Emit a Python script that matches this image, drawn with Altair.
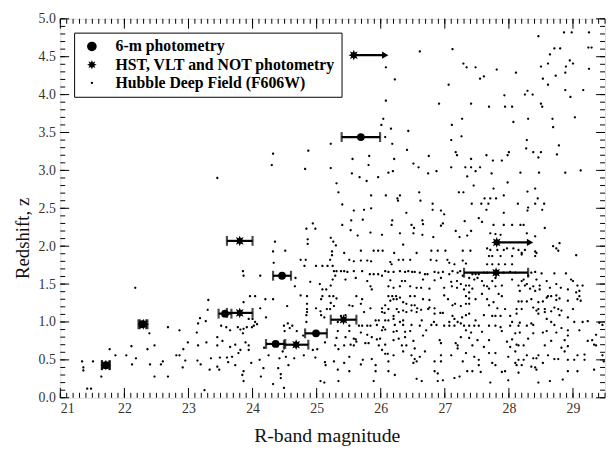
import math
import altair as alt
import pandas as pd

W, H = 552, 384

S6 = "6-m photometry"
SH = "HST, VLT and NOT photometry"
SD = "Hubble Deep Field (F606W)"
series_names = [S6, SH, SD]

x_labels = [21, 22, 23, 24, 25, 26, 27, 28, 29]
y_labels = [0.0, 0.5, 1.0, 1.5, 2.0, 2.5, 3.0, 3.5, 4.0, 4.5, 5.0]
x_minor = [round(21 + 0.1 * i, 1) for i in range(86)]
y_minor = [round(0.1 * i, 1) for i in range(51)]

# 6-m photometry: magnitude, redshift, magnitude error
m6_mag = [21.71, 22.28, 23.57, 24.46, 24.36, 24.99, 25.69]
m6_z = [0.43, 0.97, 1.11, 1.61, 0.71, 0.85, 3.44]
m6_err = [0.06, 0.06, 0.10, 0.14, 0.15, 0.17, 0.30]

# HST, VLT and NOT photometry
hst_mag = [21.71, 22.30, 23.80, 23.80, 24.68, 25.42, 27.80]
hst_z = [0.43, 0.97, 1.12, 2.07, 0.70, 1.03, 1.65]
hst_err = [0.06, 0.06, 0.20, 0.20, 0.19, 0.20, 0.50]

# lower limits (arrows)
lim_mag = [25.58, 27.81]
lim_z = [4.52, 2.05]
lim_end = [26.07, 28.33]

# Hubble Deep Field galaxies (R magnitude, redshift)
hdf_top_mid = [(23.45,2.90),(24.32,3.22),(24.30,3.07),(24.82,3.02),(24.84,2.23),
(26.61,4.57),(27.12,4.60),(26.08,4.36),(26.22,4.20),(27.06,4.13),(26.08,3.92),(26.91,3.88),(26.04,3.68),(26.01,3.60),(26.16,3.55),(27.11,3.60),(26.43,3.52),(26.07,3.44),(26.18,3.35),(25.22,3.35),(27.10,3.40),(24.87,3.26),(26.41,3.27),(26.75,3.19),(25.56,3.15),(25.82,3.19),(26.21,3.15),(25.22,3.03),(25.81,3.07),(26.51,3.09),(26.59,3.04),(27.10,3.04),(25.55,2.96),(25.67,2.91),(25.78,2.86),(25.96,2.91),(26.12,2.97),(26.19,2.99),(26.74,2.96),(26.87,2.99),(25.31,2.83),(25.34,2.71),(25.85,2.67),(26.08,2.67),(26.26,2.63),(26.30,2.67),(26.60,2.71),(26.62,2.60),(25.40,2.55),(25.74,2.48),(25.85,2.50),(25.58,2.47),(26.27,2.60),(26.40,2.44),(26.81,2.56),(26.81,2.48),(26.94,2.47)]

hdf_top_right = [(28.46,4.77),(28.86,4.82),(28.98,4.82),(29.25,4.82),(28.71,4.61),(28.80,4.61),(29.24,4.62),(29.29,4.62),(28.64,4.53),(27.29,4.41),(27.34,4.36),(27.48,4.36),(27.81,4.33),(28.50,4.37),(28.61,4.41),(28.95,4.45),(29.00,4.41),(28.89,4.37),(28.88,4.29),(29.25,4.34),(28.11,4.29),(27.61,4.24),(27.55,4.21),(28.53,4.21),(28.73,4.25),(28.61,4.13),(28.29,4.05),(28.25,4.00),(28.37,4.00),(27.93,3.99),(28.88,4.06),(28.96,3.97),(29.16,4.06),(27.41,3.88),(27.69,3.84),(27.94,3.84),(28.05,3.84),(28.50,3.88),(28.52,3.84),(27.27,3.68),(28.30,3.68),(28.68,3.68),(29.03,3.70),(28.07,3.64),(28.69,3.57),(27.26,3.45),(28.28,3.40),(28.27,3.29),(28.78,3.33),(28.75,3.21),(27.17,3.24),(27.19,3.20),(27.41,3.15),(27.65,3.20),(27.75,3.13),(27.89,3.13),(27.98,3.20),(28.00,3.24),(28.38,3.24),(28.50,3.24),(28.46,3.17),(27.32,3.04),(27.41,3.04),(27.48,2.99),(27.55,3.04),(27.73,2.96),(28.18,2.97),(28.47,2.97),(28.88,2.97),(29.12,3.00),(27.35,2.92),(27.98,2.84),(27.45,2.80),(27.76,2.76),(28.41,2.76),(27.22,2.71),(27.29,2.71),(28.29,2.72),(27.92,2.67),(27.62,2.63),(27.71,2.63),(27.80,2.63),(28.45,2.63),(27.42,2.56),(27.57,2.56),(27.68,2.56),(28.14,2.56),(28.41,2.56),(28.55,2.56),(27.65,2.48),(28.30,2.51),(28.29,2.47),(28.52,2.48),(27.92,2.44)]

hdf_low_left = [(22.17,1.45),(23.31,1.29),(23.18,1.05),(23.27,1.01),(23.15,0.98),(22.68,0.93),(22.86,0.89),(22.39,0.85),(23.13,0.86),(22.99,0.73),(23.28,0.73),(22.11,0.68),(22.47,0.69),(21.77,0.64),(22.36,0.64),(22.92,0.64),(23.15,0.69),(21.86,0.56),(22.03,0.56),(22.81,0.56),(22.86,0.56),(22.18,0.52),(23.35,0.52),(21.34,0.48),(21.51,0.48),(22.60,0.48),(22.95,0.49),(23.14,0.49),(22.12,0.44),(22.40,0.44),(22.57,0.44),(23.19,0.44),(21.36,0.40),(21.36,0.36),(22.91,0.40),(21.64,0.28),(22.47,0.28),(22.68,0.28),(21.42,0.12),(21.48,0.12),(23.25,0.10),
(23.45,0.69),(23.45,0.80),(23.49,0.53),(23.60,0.53),(23.68,0.54),(23.73,0.70),(23.81,0.63),(23.65,0.67),(23.89,0.73),(23.94,0.69),(23.94,0.63),(23.86,0.91),(23.85,0.85),(23.99,0.93),(24.02,0.95),(24.00,1.04),(23.94,1.04),(23.65,0.89),(23.59,0.93),(23.45,0.41),(23.33,0.37),(23.73,0.43),(23.86,0.35),(23.98,0.46),(23.84,0.30),(23.86,0.22),(23.30,1.16),(23.86,1.26),(23.96,1.34),(24.04,1.34),(23.85,1.67),(23.86,1.61),(24.12,1.61),
(23.51,0.95),(23.53,0.75),(23.78,0.59),(23.62,0.47),(24.11,0.50),(24.12,1.18),(24.07,0.97),(24.04,1.00),(23.91,0.93),(23.77,0.93),(23.81,0.90),(23.48,0.37)]

hdf_mid = [(24.94,2.30),(24.98,2.23),(24.86,2.09),(24.86,2.03),(24.35,2.06),(25.22,2.11),(25.26,2.06),(25.30,2.01),(25.40,2.28),(24.32,1.93),(24.51,1.94),(25.24,1.93),(25.24,1.88),(24.33,1.78),(24.75,1.82),(24.83,1.82),(24.81,1.74),(24.99,1.74),(25.09,1.74),(25.17,1.74),(25.21,1.82),(25.25,1.74),(25.27,1.67),(25.31,1.67),(25.38,1.67),(25.29,1.61),(25.25,1.56),(24.67,1.58),(24.66,1.47),(24.90,1.53),(25.05,1.50),(25.22,1.48),(25.09,1.43),(25.15,1.43),(24.85,1.34),(24.75,1.35),(25.09,1.34),(25.20,1.34),(25.26,1.34),(25.31,1.31),(25.07,1.30),(25.22,1.25),(25.27,1.21),(24.20,1.30),(24.32,1.30),(24.54,1.21),(24.85,1.24),(24.85,1.17),(24.85,1.13),(24.84,1.09),(24.21,1.06),(24.99,1.18),(25.06,1.14),(25.07,1.09),(25.12,1.06),(25.16,1.17),(25.21,1.17),(24.49,0.95),(24.55,0.98),(24.62,0.95),(24.58,0.92),(24.50,0.88),(24.69,0.88),(24.79,0.82),(24.84,1.00),(24.18,0.66),(24.25,0.56),(24.42,0.52),(24.47,0.61),(24.52,0.54),(24.56,0.43),(24.65,0.52),(24.80,0.56),(24.94,0.63),(25.01,0.64),(24.98,0.53),(25.13,0.47),(25.14,0.43),(25.27,0.48),(25.34,0.64),(25.29,0.69),(25.13,0.73),(25.31,0.79),(24.17,0.39),(24.40,0.39),(24.44,0.31),(24.44,0.26),(24.13,0.28),(24.32,0.18),(24.49,0.13),(25.06,0.22),(25.12,0.20),(25.34,0.22)]

hdf_center = [(26.99,2.42),(25.54,2.34),(25.72,2.35),(26.18,2.34),(26.17,2.28),(26.48,2.28),(26.52,2.24),(26.65,2.34),(26.66,2.29),(26.94,2.27),(26.97,2.30),(27.31,2.33),(27.17,2.20),(27.41,2.20),(25.64,2.14),(25.84,2.18),(26.02,2.15),(26.30,2.17),(26.51,2.17),(26.65,2.15),(26.82,2.12),(27.23,2.12),(27.35,2.14),(25.53,2.21),(26.35,2.02),
(25.69,1.94),(25.89,1.94),(25.96,1.94),(26.03,1.94),(26.21,1.91),(26.56,1.91),(26.79,1.94),(26.89,1.94),(27.01,1.94),(27.28,1.94),(27.40,1.94),(25.43,1.91),
(25.51,1.82),(25.58,1.80),(25.69,1.81),(25.79,1.81),(25.85,1.80),(26.15,1.79),(26.28,1.82),(26.35,1.82),(26.46,1.82),(26.78,1.82),(26.87,1.81),(27.04,1.82),(27.07,1.78),(27.28,1.81),(27.33,1.77),(26.17,1.76),(27.15,1.76),
(25.43,1.67),(25.48,1.66),(25.58,1.67),(25.71,1.67),(25.83,1.63),(25.89,1.63),(25.96,1.63),(26.07,1.67),(26.12,1.66),(26.20,1.66),(26.30,1.67),(26.38,1.66),(26.43,1.67),(26.49,1.66),(26.53,1.66),(26.61,1.65),(26.69,1.63),(26.73,1.63),(26.84,1.66),(26.90,1.65),(26.97,1.66),(27.07,1.63),(27.12,1.67),(27.20,1.65),(27.24,1.67),(27.28,1.61),(25.45,1.56),(25.61,1.58),(26.02,1.61),
(25.79,1.54),(26.15,1.55),(26.33,1.54),(26.38,1.54),(26.66,1.56),(26.84,1.55),(26.94,1.58),(27.10,1.53),(27.19,1.54),(27.25,1.50),(27.33,1.48),(25.84,1.47),(25.86,1.43),(26.12,1.47),(26.20,1.45),(26.30,1.47),(26.46,1.47),(26.56,1.45),(26.63,1.45),(26.76,1.44),(26.99,1.45),(27.11,1.47),(27.19,1.45),(27.30,1.43),
(25.62,1.34),(25.71,1.30),(26.12,1.34),(26.18,1.34),(26.24,1.34),(26.25,1.30),(26.30,1.32),(26.46,1.34),(26.53,1.34),(26.66,1.30),(26.76,1.29),(26.99,1.35),(27.05,1.30),(27.33,1.34),(27.38,1.31),(25.51,1.22),(25.56,1.21),(25.69,1.24),(25.84,1.18),(26.07,1.22),(26.15,1.28),(26.20,1.30),(26.35,1.26),(26.40,1.24),(26.48,1.22),(26.53,1.22),(26.76,1.19),(26.84,1.18),(27.12,1.22),(27.16,1.24),(27.25,1.21),(27.33,1.24),(26.02,1.18),(26.12,1.17),(26.25,1.17),(26.57,1.18),(26.63,1.16),(26.74,1.17),
(25.38,1.08),(25.45,1.09),(25.74,1.13),(26.02,1.13),(26.06,1.12),(26.20,1.08),(26.28,1.13),(26.35,1.15),(26.40,1.13),(26.48,1.15),(26.56,1.13),(26.84,1.11),(26.93,1.12),(26.97,1.12),(27.12,1.08),(27.15,1.04),(27.27,1.06),(27.33,1.09),(25.92,1.02),(25.97,1.02),(26.07,1.02),(26.12,1.02),(26.20,1.04),(26.30,1.00),(26.35,1.02),(26.64,1.02),(26.83,1.00),(27.07,1.00),(27.20,1.00),(27.25,0.98),(25.33,1.00),
(25.51,0.95),(25.66,0.95),(25.71,0.95),(25.79,0.95),(25.84,0.95),(25.94,0.96),(26.04,0.93),(26.22,0.96),(26.35,0.96),(26.48,0.96),(26.61,0.95),(26.79,0.96),(26.87,0.96),(26.99,0.95),(27.07,0.95),(27.15,0.95),(27.30,0.95),(25.33,0.88),(25.51,0.88),(25.69,0.86),(25.79,0.83),(26.02,0.89),(26.07,0.90),(26.20,0.87),(26.25,0.88),(26.38,0.87),(26.46,0.88),(26.66,0.82),(26.71,0.89),(27.33,0.89),(27.41,0.86),
(25.45,0.80),(25.58,0.78),(25.61,0.77),(25.62,0.74),(25.86,0.80),(25.94,0.77),(25.99,0.78),(26.20,0.76),(26.28,0.78),(26.38,0.80),(26.51,0.75),(26.92,0.76),(27.25,0.80),(25.43,0.69),(25.53,0.70),(25.58,0.69),(25.76,0.72),(25.81,0.72),(25.97,0.69),(26.07,0.70),(26.33,0.69),(26.40,0.69),(26.53,0.65),(26.94,0.72),(27.17,0.72),(27.20,0.69),(27.20,0.65),
(26.02,0.63),(26.07,0.58),(26.11,0.58),(26.20,0.56),(26.35,0.61),(26.48,0.56),(26.53,0.51),(26.56,0.48),(26.61,0.54),(26.94,0.56),(27.10,0.56),(27.33,0.59),(25.51,0.54),(25.43,0.46),(25.72,0.50),(25.86,0.51),(26.12,0.48),(26.51,0.46),(26.69,0.61),(26.84,0.48),(26.94,0.48),(27.28,0.48),(25.69,0.44),(25.92,0.43),
(25.33,0.37),(25.51,0.35),(25.92,0.35),(26.12,0.35),(26.84,0.35),(26.89,0.32),(27.35,0.35),(26.22,0.30),(25.89,0.22),(26.56,0.25),(26.97,0.23),(27.23,0.28),(26.64,0.22),(26.89,0.22),(27.15,0.26)]

hdf_right = [(27.53,2.37),(27.58,2.32),(28.18,2.28),(28.23,2.28),(28.56,2.24),(27.76,2.28),(27.92,2.28),(28.05,2.28),(27.71,2.17),(27.79,2.16),(27.87,2.15),(28.28,2.17),(28.41,2.13),(28.69,2.00),(28.74,1.97),(28.79,2.04),(28.77,1.94),(29.05,1.88),
(27.66,1.97),(27.71,1.95),(27.82,1.95),(27.92,1.95),(27.97,1.97),(28.07,1.97),(28.15,1.95),(28.20,1.91),(28.25,1.95),(28.41,1.93),(28.43,1.91),(27.69,1.87),(27.74,1.87),(27.87,1.87),(28.05,1.87),(28.20,1.89),(28.41,1.87),
(27.66,1.76),(27.74,1.76),(27.84,1.76),(27.94,1.76),(28.05,1.76),
(27.43,1.63),(27.48,1.63),(27.53,1.63),(27.61,1.65),(27.66,1.65),(27.92,1.65),(28.02,1.66),(28.10,1.65),(28.35,1.65),(28.41,1.66),(28.51,1.64),(28.71,1.64),(28.89,1.64),(28.30,1.61),
(27.38,1.58),(27.46,1.56),(27.51,1.58),(27.58,1.54),(27.74,1.54),(27.79,1.58),(28.05,1.56),(28.20,1.54),(28.23,1.56),(28.43,1.56),(28.59,1.54),(28.97,1.56),(29.00,1.54),(29.07,1.48),(27.38,1.48),(27.43,1.44),(27.61,1.48),(27.66,1.47),(27.69,1.44),(27.79,1.47),(27.89,1.48),(28.15,1.48),(28.25,1.48),(28.28,1.50),(28.33,1.44),(28.38,1.47),(28.48,1.48),(28.64,1.45),(28.74,1.50),(28.81,1.45),(28.92,1.43),(29.15,1.48),(29.10,1.41),
(27.38,1.39),(27.58,1.37),(27.84,1.37),(27.89,1.34),(28.17,1.41),(28.41,1.41),(28.48,1.43),(28.59,1.32),(28.61,1.34),(28.66,1.34),(28.74,1.35),(29.05,1.39),(29.10,1.34),(27.48,1.30),(27.66,1.30),(27.76,1.26),(28.15,1.27),(28.20,1.27),(28.28,1.27),(28.46,1.26),(28.53,1.27),(28.74,1.29),(28.79,1.31),(28.92,1.28),(29.07,1.30),(29.12,1.28),(28.35,1.30),
(27.38,1.24),(27.69,1.22),(27.82,1.18),(27.94,1.17),(28.12,1.17),(28.20,1.17),(28.38,1.19),(28.43,1.15),(28.46,1.17),(28.56,1.17),(28.71,1.19),(28.77,1.17),(28.82,1.15),(29.00,1.17),(27.38,1.11),(27.61,1.09),(27.74,1.08),(27.79,1.08),(27.87,1.08),(28.02,1.08),(28.12,1.11),(28.46,1.11),(28.56,1.13),(28.66,1.14),(28.79,1.09),(28.92,1.06),(28.59,1.04),(27.48,1.02),(28.05,1.00),(28.17,0.99),(28.35,0.98),(28.66,1.00),(29.02,1.00),(29.15,1.00),(29.23,1.01),(29.41,0.99),
(27.38,0.95),(27.46,0.95),(27.53,0.95),(27.69,0.95),(27.79,0.95),(27.87,0.93),(28.02,0.95),(28.15,0.95),(28.28,0.95),(28.38,0.96),(28.71,0.96),(28.82,0.92),(28.92,0.89),(29.10,0.89),(29.46,0.96),(27.58,0.87),(27.89,0.88),(28.10,0.85),(28.17,0.86),(28.38,0.85),(28.53,0.86),(28.59,0.88),(28.74,0.86),(28.92,0.82),(29.36,0.83),
(27.38,0.79),(27.51,0.76),(27.69,0.76),(27.97,0.74),(28.05,0.77),(28.30,0.78),(28.66,0.75),(28.87,0.76),(29.23,0.75),(29.30,0.76),(29.33,0.70),(27.43,0.69),(27.61,0.67),(28.02,0.67),(28.12,0.70),(28.15,0.69),(28.23,0.69),(28.56,0.69),(28.82,0.66),(28.92,0.68),(29.36,0.69),(27.69,0.59),(27.79,0.59),(28.10,0.61),(28.28,0.56),(28.46,0.56),(28.61,0.56),(28.87,0.61),(29.07,0.56),(29.18,0.57),(29.46,0.56),
(27.46,0.54),(27.53,0.50),(27.99,0.54),(28.15,0.50),(28.23,0.50),(28.38,0.52),(28.43,0.52),(28.53,0.46),(28.71,0.51),(28.77,0.51),(28.92,0.50),(29.02,0.50),(29.18,0.50),(29.48,0.48),(27.53,0.43),(27.74,0.46),(28.10,0.46),(28.12,0.43),(28.20,0.43),(28.35,0.41),(28.41,0.40),(28.43,0.37),(27.79,0.43),(27.43,0.35),(27.56,0.34),(27.89,0.34),(27.94,0.35),(28.15,0.33),(28.92,0.35),(29.07,0.35),(29.33,0.37),(27.99,0.23),(28.64,0.22),(28.84,0.24),(27.71,0.20),(28.46,0.20)]

hdf_all = hdf_top_mid + hdf_top_right + hdf_low_left + hdf_mid + hdf_center + hdf_right

# ---------- styling helpers ----------
FONT = "Liberation Serif"

# bold 8-armed asterisk as a filled star path
_pts = []
for k in range(16):
    r = 1.0 if k % 2 == 0 else 0.52
    a = math.pi * k / 8
    _pts.append((r * math.sin(a), -r * math.cos(a)))
ASTERISK = "M" + "L".join(f"{px:.3f},{py:.3f}" for px, py in _pts) + "Z"
# tiny dot (small circle inside the unit symbol box)
DOT = "M0,-0.24A0.24,0.24 0 1,1 0,0.24A0.24,0.24 0 1,1 0,-0.24Z"

xs = alt.Scale(domain=[21, 29.5], nice=False, zero=False)
ys = alt.Scale(domain=[0, 5], nice=False, zero=False)

xax = alt.Axis(title="R-band magnitude", values=x_labels, format="d", ticks=False,
               grid=False, domain=False, labelFont=FONT, labelFontSize=14,
               labelColor="#333", labelPadding=4, titleFont=FONT, titleFontSize=20,
               titleFontWeight="normal", titleColor="#111", titleX=270, titleY=44,
               titleBaseline="alphabetic", titleAlign="center")
yax = alt.Axis(title="Redshift, z", values=y_labels, format=".1f", ticks=False,
               grid=False, domain=False, labelFont=FONT, labelFontSize=14,
               labelColor="#333", labelPadding=5, titleFont=FONT, titleFontSize=19,
               titleFontWeight="normal", titleColor="#111", titleX=-32, titleY=222,
               titleBaseline="alphabetic", titleAlign="center", titleAngle=270)

legend = alt.Legend(title=None, orient="none", legendX=14, legendY=14,
                    strokeColor="black", fillColor="white", padding=6,
                    labelFont=FONT, labelFontWeight="bold", labelFontSize=16,
                    labelColor="black", labelLimit=0, symbolFillColor="black",
                    symbolStrokeColor="black", symbolStrokeWidth=0, symbolSize=95,
                    labelOffset=16, symbolOffset=4, rowPadding=2.5)

shape_enc = alt.Shape("series:N", scale=alt.Scale(domain=series_names,
                      range=["circle", ASTERISK, DOT]), legend=legend)

X = lambda f: alt.X(f, scale=xs, axis=xax)
Y = lambda f: alt.Y(f, scale=ys, axis=yax)

# ---------- data frames ----------
hdf_df = pd.DataFrame({"mag": [p[0] for p in hdf_all], "z": [p[1] for p in hdf_all], "series": SD})
m6_df = pd.DataFrame({"mag": m6_mag, "z": m6_z, "series": S6})
hst_df = pd.DataFrame({"mag": hst_mag, "z": hst_z, "series": SH})

err_df = pd.DataFrame({
    "lo": [m - e for m, e in zip(m6_mag, m6_err)] + [m - e for m, e in zip(hst_mag, hst_err)],
    "hi": [m + e for m, e in zip(m6_mag, m6_err)] + [m + e for m, e in zip(hst_mag, hst_err)],
    "z": m6_z + hst_z,
})
cap_df = pd.DataFrame({"v": list(err_df["lo"]) + list(err_df["hi"]),
                       "z": list(err_df["z"]) * 2})
lim_df = pd.DataFrame({"mag": lim_mag, "end": lim_end, "z": lim_z, "series": SH})

# ---------- layers ----------
dots = alt.Chart(hdf_df).mark_point(filled=True, color="black", opacity=1, size=95).encode(
    x=X("mag:Q"), y=Y("z:Q"), shape=shape_enc)

bars = alt.Chart(err_df).mark_rule(color="black", strokeWidth=2.2).encode(
    x=X("lo:Q"), x2="hi:Q", y=Y("z:Q"))
caps = alt.Chart(cap_df).mark_tick(color="black", orient="vertical", size=10, thickness=2.2).encode(
    x=X("v:Q"), y=Y("z:Q"))

arrows = alt.Chart(lim_df).mark_rule(color="black", strokeWidth=2.2).encode(
    x=X("mag:Q"), x2="end:Q", y=Y("z:Q"))
heads = alt.Chart(lim_df).mark_point(shape="triangle-right", filled=True, color="black",
                                     size=55, opacity=1).encode(x=X("end:Q"), y=Y("z:Q"))

circles = alt.Chart(m6_df).mark_point(filled=True, color="black", opacity=1, size=62).encode(
    x=X("mag:Q"), y=Y("z:Q"), shape=shape_enc)
stars = alt.Chart(pd.concat([hst_df, lim_df[["mag", "z", "series"]]])).mark_point(
    filled=True, color="black", opacity=1, size=120).encode(
    x=X("mag:Q"), y=Y("z:Q"), shape=shape_enc)


def tick_layer(vals, ch, side, length):
    df = pd.DataFrame({"v": vals})
    base = alt.Chart(df).mark_rule(color="black", strokeWidth=1)
    if ch == "x":
        enc = dict(x=X("v:Q"))
        if side == "bottom":
            enc.update(y=alt.value(H), y2=alt.value(H - length))
        else:
            enc.update(y=alt.value(0), y2=alt.value(length))
    else:
        enc = dict(y=Y("v:Q"))
        if side == "left":
            enc.update(x=alt.value(0), x2=alt.value(length))
        else:
            enc.update(x=alt.value(W), x2=alt.value(W - length))
    return base.encode(**enc)


ticks = [
    tick_layer(x_minor, "x", "bottom", 5), tick_layer(x_labels, "x", "bottom", 10),
    tick_layer(x_minor, "x", "top", 5), tick_layer(x_labels, "x", "top", 10),
    tick_layer(y_minor, "y", "left", 5), tick_layer(y_labels, "y", "left", 9),
    tick_layer(y_minor, "y", "right", 5), tick_layer(y_labels, "y", "right", 9),
]

chart = alt.layer(dots, *ticks, bars, caps, arrows, heads, circles, stars).properties(
    width=W, height=H,
    padding={"left": 53, "top": 8, "right": 2, "bottom": 52},
    autosize=alt.AutoSizeParams(type="none"),
).configure_view(stroke="black", strokeWidth=1.5).configure(font=FONT)

chart.save("out.html", embed_options={"renderer": "svg", "actions": False})
